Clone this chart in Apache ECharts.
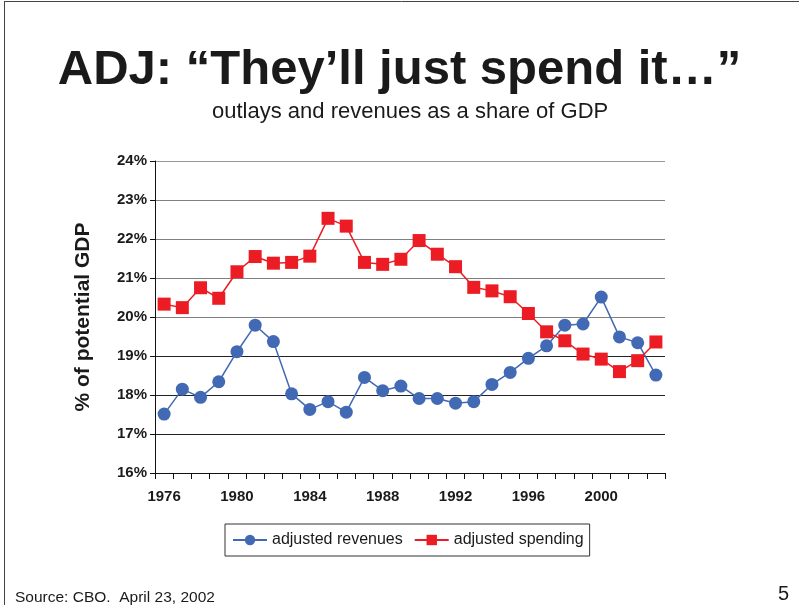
<!DOCTYPE html>
<html>
<head>
<meta charset="utf-8">
<script src="https://cdn.jsdelivr.net/npm/echarts@6/dist/echarts.min.js"></script>
<style>
  html, body { margin: 0; padding: 0; background: #fff; }
  #chart { width: 799px; height: 605px; }
</style>
</head>
<body>
<div id="chart"></div>
<script>
var years = ['1976','1977','1978','1979','1980','1981','1982','1983','1984','1985',
             '1986','1987','1988','1989','1990','1991','1992','1993','1994','1995',
             '1996','1997','1998','1999','2000','2001','2002','2003'];

var revenues = [17.51, 18.15, 17.94, 18.34, 19.11, 19.79, 19.37, 18.03, 17.63, 17.83,
                17.56, 18.45, 18.11, 18.23, 17.91, 17.91, 17.79, 17.83, 18.27, 18.58,
                18.94, 19.26, 19.79, 19.82, 20.51, 19.49, 19.34, 18.51];

var spending = [20.33, 20.24, 20.75, 20.48, 21.16, 21.55, 21.38, 21.40, 21.56, 22.53,
                22.33, 21.40, 21.35, 21.48, 21.96, 21.61, 21.29, 20.76, 20.67, 20.52,
                20.09, 19.62, 19.39, 19.05, 18.92, 18.60, 18.88, 19.36];

var yearLabels = ['1976','1980','1984','1988','1992','1996','2000'];

var myChart = echarts.init(document.getElementById('chart'));
var font = '"Liberation Sans", Arial, sans-serif';

var option = {
  animation: false,
  backgroundColor: '#fff',
  title: [{
    text: 'ADJ: \u201cThey\u2019ll just spend it\u2026\u201d',
    left: 'center',
    top: 41,
    textStyle: { fontFamily: font, fontWeight: 'bold', fontSize: 49, color: '#1a1a1a' }
  }, {
    text: 'outlays and revenues as a share of GDP',
    left: 207,
    top: 96,
    textStyle: { fontFamily: font, fontWeight: 'normal', fontSize: 22, color: '#1a1a1a' }
  }, {
    text: 'Source: CBO.  April 23, 2002',
    left: 10,
    top: 585,
    textStyle: { fontFamily: font, fontWeight: 'normal', fontSize: 15.5, color: '#1a1a1a' }
  }, {
    text: '5',
    right: 5,
    top: 579,
    textStyle: { fontFamily: font, fontWeight: 'normal', fontSize: 20, color: '#1a1a1a' }
  }],
  graphic: [
    { type: 'line', shape: { x1: 4, y1: 1.5, x2: 799, y2: 1.5 }, style: { stroke: '#444', lineWidth: 1 } },
    { type: 'line', shape: { x1: 4.5, y1: 1, x2: 4.5, y2: 605 }, style: { stroke: '#444', lineWidth: 1 } }
  ],
  legend: {
    left: 225,
    top: 524,
    data: ['adjusted revenues', 'adjusted spending'],
    itemWidth: 34,
    itemHeight: 13,
    itemGap: 11,
    padding: [8, 6, 8, 7],
    borderColor: '#333',
    borderWidth: 1,
    textStyle: { fontFamily: font, fontSize: 16, color: '#1a1a1a' }
  },
  grid: { left: 155, right: 134, top: 161, bottom: 132 },
  xAxis: {
    type: 'category',
    data: years,
    boundaryGap: true,
    axisLine: { lineStyle: { color: '#111', width: 1 } },
    axisTick: { show: true, interval: 0, length: 6, lineStyle: { color: '#111' } },
    axisLabel: {
      interval: 0,
      margin: 16,
      fontFamily: font,
      fontWeight: 'bold',
      fontSize: 15,
      color: '#1a1a1a',
      formatter: function (v) { return yearLabels.indexOf(v) >= 0 ? v : ''; }
    },
    splitLine: { show: false }
  },
  yAxis: {
    type: 'value',
    min: 16,
    max: 24,
    interval: 1,
    name: '% of potential GDP',
    nameLocation: 'middle',
    nameGap: 61,
    nameTextStyle: { fontFamily: font, fontWeight: 'bold', fontSize: 21, color: '#1a1a1a' },
    axisLine: { show: true, lineStyle: { color: '#111', width: 1 } },
    axisTick: { show: true, length: 5, lineStyle: { color: '#111' } },
    axisLabel: {
      margin: 8,
      fontFamily: font,
      fontWeight: 'bold',
      fontSize: 15,
      color: '#1a1a1a',
      formatter: function (v) { return v + '%'; }
    },
    splitLine: {
      show: true,
      lineStyle: { color: ['#111', '#222', '#222', '#222', '#808080', '#808080', '#808080', '#808080', '#999'], width: 1.2 }
    }
  },
  series: [{
    name: 'adjusted revenues',
    type: 'line',
    data: revenues,
    symbol: 'circle',
    symbolSize: 13,
    itemStyle: { color: '#4169b4' },
    lineStyle: { color: '#4169b4', width: 1.5 }
  }, {
    name: 'adjusted spending',
    type: 'line',
    data: spending,
    symbol: 'rect',
    symbolSize: 13,
    itemStyle: { color: '#ec1c24' },
    lineStyle: { color: '#ec1c24', width: 1.5 }
  }]
};

myChart.setOption(option, true);
</script>
</body>
</html>
